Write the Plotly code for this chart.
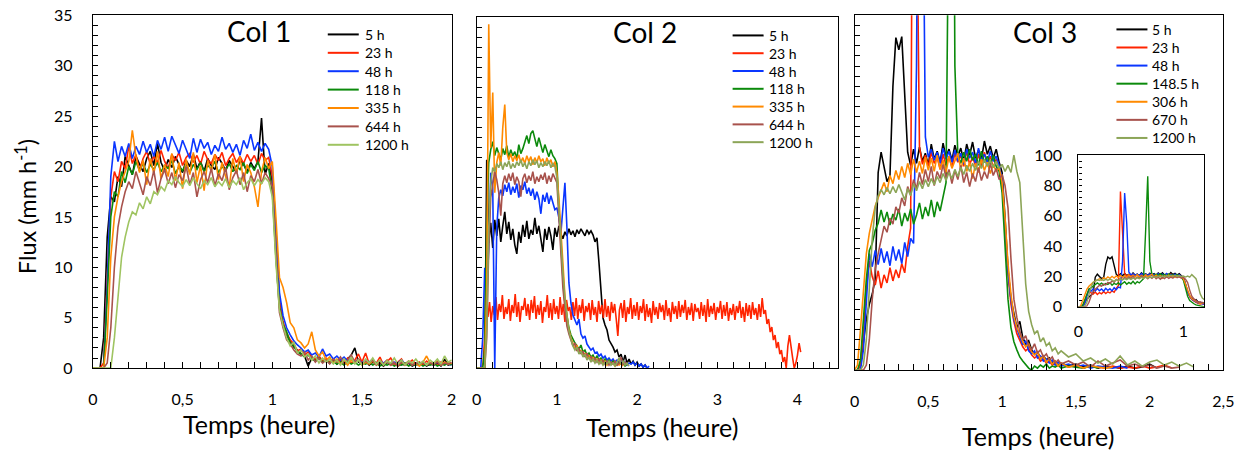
import plotly.graph_objects as go

# ---------------- data ----------------
SERIES_1 = ["5 h", "23 h", "48 h", "118 h", "335 h", "644 h", "1200 h"]
SERIES_2 = ["5 h", "23 h", "48 h", "118 h", "335 h", "644 h", "1200 h"]
SERIES_3 = ["5 h", "23 h", "48 h", "148.5 h", "306 h", "670 h", "1200 h"]

N = None

# Col 1 : time (h)
T1 = [0.00, 0.02, 0.04, 0.06, 0.08, 0.10, 0.12, 0.14, 0.16, 0.18,
      0.20, 0.22, 0.24, 0.26, 0.28, 0.30, 0.32, 0.34, 0.36, 0.38,
      0.40, 0.42, 0.44, 0.46, 0.48, 0.50, 0.52, 0.54, 0.56, 0.58,
      0.60, 0.62, 0.64, 0.66, 0.68, 0.70, 0.72, 0.74, 0.76, 0.78,
      0.80, 0.82, 0.84, 0.86, 0.88, 0.90, 0.92, 0.94, 0.96, 0.98,
      1.00, 1.02, 1.04, 1.06, 1.08, 1.10, 1.12, 1.14, 1.16, 1.18,
      1.20, 1.22, 1.24, 1.26, 1.28, 1.30, 1.32, 1.34, 1.36, 1.38,
      1.40, 1.42, 1.44, 1.46, 1.48, 1.50, 1.52, 1.54, 1.56, 1.58,
      1.60, 1.62, 1.64, 1.66, 1.68, 1.70, 1.72, 1.74, 1.76, 1.78,
      1.80, 1.82, 1.84, 1.86, 1.88, 1.90, 1.92, 1.94, 1.96, 1.98,
      2.00]

c1_5h = [0, 0, 0, 3, 13, 17, 16.5, 19, 18, 21,
         20, 19.2, 21, 20.2, 19.5, 20.8, 21.5, 20.1, 22.3, 20.4,
         19.6, 20.7, 19.9, 21, 20.2, 19.4, 20.6, 20, 21.2, 19.8,
         20.5, 19.5, 20.8, 20.1, 19.7, 20.9, 20.3, 19.6, 20.6, 20,
         19.4, 20.7, 20.2, 19.5, 20.4, 19.8, 20.5, 24.8, 19.2, 20.3,
         18.5, 12, 6.5, 4.2, 3.2, 2.6, 2.1, 1.8, 1.4, 1.2,
         0.2, 1, 0.8, 1.1, 0.6, 0.9, 0.5, 0.8, 0.4, 0.7,
         0.5, 0.9, 1.3, 2, 0.6, 0.4, 0.7, 0.3, 0.6, 0.4,
         0.5, 0.2, 0.6, 0.3, 0.5, 0.2, 0.4, 0.3, 0.5, 0.2,
         0.4, 0.3, 0.5, 0.2, 0.4, 0.3, 0.5, 0.2, 0.9, 0.3,
         0.4]
c1_23h = [0, 0, 0, 0.5, 9, 17, 19.5, 18.5, 20.5, 19.8,
          22, 20.3, 21.2, 19.6, 20.8, 21.5, 20.2, 21, 20.4, 21.6,
          20.5, 19.8, 21.2, 20.6, 21.4, 20.1, 20.9, 21.3, 20.4, 21.1,
          20.2, 21.5, 20.7, 20.3, 21.2, 20.6, 21.4, 20.1, 20.8, 21.3,
          20.4, 21, 20.3, 21.2, 20.5, 21.1, 20.2, 21.3, 20.6, 20.9,
          19, 12.5, 6.8, 4.6, 3.5, 2.8, 2.4, 1.7, 1.9, 1.3,
          1.6, 1.1, 0.9, 1.2, 0.7, 1, 0.6, 0.9, 0.5, 0.8,
          0.6, 1, 0.5, 0.8, 1.4, 0.6, 1.5, 0.4, 0.8, 0.5,
          1.1, 0.3, 0.7, 1, 0.4, 0.6, 0.9, 0.3, 0.5, 0.8,
          0.4, 0.6, 0.3, 0.7, 0.4, 0.5, 0.3, 0.6, 0.4, 0.5,
          0.4]
c1_48h = [0, 0, 0, 0, 8, 19, 22.5, 20.5, 22, 21,
          22.3, 20.8, 22, 21.2, 22.5, 21.4, 22.2, 21, 22.6, 21.7,
          22.9, 21.5, 23, 22.1, 21.3, 22.6, 21.6, 20.8, 22.8, 21.4,
          22.7, 21.8, 22.4, 21.2, 22.1, 21.5, 22.9, 21.7, 22.3, 21.4,
          22.2, 21.1, 22.6, 21.8, 23.2, 21.6, 22.4, 21.5, 22.3, 21.7,
          20, 13.5, 7.5, 5.2, 4, 3.3, 2.7, 2.3, 2, 1.6,
          1.8, 1.3, 1.5, 1.1, 1.9, 1.2, 1.4, 0.9, 1.2, 0.8,
          1.1, 0.7, 1, 0.6, 0.9, 0.5, 0.8, 0.6, 0.9, 0.4,
          0.7, 0.5, 0.8, 0.3, 0.6, 0.5, 0.8, 0.4, 0.6, 0.3,
          0.5, 0.4, 0.6, 0.3, 0.5, 0.4, 0.6, 0.3, 0.5, 0.4,
          0.3]
c1_118h = [0, 0, 0, 0, 7, 15, 17.5, 17, 19.5, 18.4,
           20, 19.2, 20.5, 19.6, 20.3, 19.4, 20.2, 19.7, 20.4, 19.5,
           20.1, 19.8, 20.6, 19.3, 20, 19.6, 20.3, 19.4, 20.2, 19.7,
           20.4, 19.5, 20.1, 19.8, 20.5, 19.4, 20, 19.6, 20.3, 19.5,
           20.1, 19.7, 20.4, 19.3, 20.2, 19.6, 20.5, 19.4, 20.1, 19.8,
           17.5, 11, 6, 4.3, 3.6, 2.5, 2.2, 1.6, 1.4, 1.1,
           1.3, 0.9, 0.7, 1, 0.6, 0.8, 0.5, 0.7, 0.4, 0.6,
           0.3, 0.7, 0.4, 0.6, 0.3, 0.5, 0.4, 0.6, 0.3, 0.5,
           0.2, 0.4, 0.3, 0.5, 0.2, 0.4, 0.3, 0.5, 0.2, 0.4,
           0.3, 0.5, 0.2, 0.4, 0.3, 0.5, 0.2, 0.4, 0.3, 0.5,
           0.3]
c1_335h = [0, 0, 0, 0, 3, 11, 15, 17, 18.5, 19.5,
           20.5, 23.6, 21, 19.4, 20.6, 18.2, 20.8, 19.3, 21.5, 18.8,
           20.2, 19, 21.3, 18.6, 20.4, 17.8, 20.7, 19.2, 21.4, 18.4,
           20.1, 17.6, 20.6, 19.5, 21.2, 18.7, 20.4, 19, 17.9, 20.8,
           19.3, 21, 18.5, 20.2, 19.4, 18, 16, 19.5, 20.9, 19.8,
           20.5, 15, 9, 8, 6.5, 4.5, 4, 2.8, 2.5, 2,
           2.4, 3.6, 1.8, 1.2, 1.6, 0.8, 1.1, 0.5, 0.9, 0.4,
           0.7, 0.3, 0.8, 0.5, 0.9, 0.3, 0.6, 0.4, 0.7, 0.3,
           0.6, 0.4, 0.8, 0.3, 0.5, 0.2, 0.6, 0.4, 0.7, 0.3,
           0.5, 0.2, 0.6, 1.2, 0.5, 0.4, 0.7, 0.3, 0.6, 0.4,
           0.5]
c1_644h = [0, 0, 0, 0, 0.5, 4, 10, 14, 16, 17.5,
           18.5, 17.8, 19.5, 18.4, 17.2, 19, 18.1, 19.6, 17.4, 18.8,
           19.7, 18.3, 19.4, 17.9, 19.2, 18.6, 20, 18.2, 19.4, 17,
           18.7, 19.5, 18.4, 19.8, 18.1, 19.3, 18.6, 19.9, 17.7, 18.9,
           19.6, 18.2, 19.4, 17.5, 19.1, 18.5, 19.7, 18.3, 19.4, 18.8,
           18, 11.5, 5.5, 4, 2.8, 2.4, 1.8, 1.4, 1.2, 1.6,
           0.8, 1.2, 0.6, 1, 0.5, 0.8, 0.4, 0.9, 0.6, 1.1,
           0.5, 0.8, 1.3, 0.6, 0.9, 0.4, 0.7, 0.5, 0.8, 0.3,
           0.6, 0.4, 0.7, 0.3, 0.5, 0.2, 0.6, 0.4, 0.7, 0.3,
           0.5, 0.4, 0.6, 0.3, 0.5, 0.4, 0.6, 0.3, 0.5, 0.4,
           0.6]
c1_1200h = [0, 0, 0, 0, 0, 0, 3, 7, 11, 13,
            14.5, 15.5, 15.2, 16.4, 15.8, 17, 16.3, 17.5, 17.2, 18,
            17.6, 18.6, 18.2, 19, 18.4, 18, 18.7, 18.1, 18.9, 18.3,
            17.8, 18.6, 18.2, 18.9, 18, 18.5, 18.1, 18.8, 17.9, 18.6,
            18.2, 18.9, 17.7, 18.4, 18.8, 18.1, 18.7, 18.3, 18.9, 18.5,
            17, 10.5, 5.8, 4.2, 3, 2.2, 2.6, 1.5, 1.8, 1.1,
            1.4, 0.8, 1.2, 0.5, 1, 0.6, 0.9, 0.4, 0.8, 0.3,
            0.9, 0.5, 1.1, 0.4, 0.8, 0.3, 0.9, 0.5, 1, 0.4,
            0.8, 0.3, 0.7, 0.5, 1, 0.4, 0.8, 0.3, 0.7, 0.5,
            0.9, 0.4, 0.7, 0.3, 0.8, 0.5, 0.9, 0.4, 1.2, 0.6,
            0.8]

# Col 2 : time (h)
T2 = [0, 0.025, 0.05, 0.075, 0.1, 0.125, 0.15, 0.175,
      0.2, 0.225, 0.25, 0.275, 0.3, 0.325, 0.35, 0.375,
      0.4, 0.425, 0.45, 0.475, 0.5, 0.525, 0.55, 0.575,
      0.6, 0.625, 0.65, 0.675, 0.7, 0.725, 0.75, 0.775,
      0.8, 0.825, 0.85, 0.875, 0.9, 0.925, 0.95, 0.975,
      1.0, 1.025, 1.05, 1.075, 1.1, 1.125, 1.15, 1.175,
      1.2, 1.225, 1.25, 1.275, 1.3, 1.325, 1.35, 1.375,
      1.4, 1.425, 1.45, 1.475, 1.5, 1.525, 1.55, 1.575,
      1.6, 1.625, 1.65, 1.675, 1.7, 1.725, 1.75, 1.775,
      1.8, 1.825, 1.85, 1.875, 1.9, 1.925, 1.95, 1.975,
      2.0, 2.025, 2.05, 2.075, 2.1, 2.125, 2.15, 2.175,
      2.2]
T2_long = [0.00, 0.02, 0.04, 0.06, 0.08, 0.10, 0.12, 0.14, 0.16, 0.18,
           0.20, 0.22, 0.24, 0.26, 0.28, 0.30, 0.32, 0.34, 0.36, 0.38,
           0.40, 0.42, 0.44, 0.46, 0.48, 0.50, 0.52, 0.54, 0.56, 0.58,
           0.60, 0.62, 0.64, 0.66, 0.68, 0.70, 0.72, 0.74, 0.76, 0.78,
           0.80, 0.82, 0.84, 0.86, 0.88, 0.90, 0.92, 0.94, 0.96, 0.98,
           1.00, 1.02, 1.04, 1.06, 1.08, 1.10, 1.12, 1.14, 1.16, 1.18,
           1.20, 1.22, 1.24, 1.26, 1.28, 1.30, 1.32, 1.34, 1.36, 1.38,
           1.40, 1.42, 1.44, 1.46, 1.48, 1.50, 1.52, 1.54, 1.56, 1.58,
           1.60, 1.62, 1.64, 1.66, 1.68, 1.70, 1.72, 1.74, 1.76, 1.78,
           1.80, 1.82, 1.84, 1.86, 1.88, 1.90, 1.92, 1.94, 1.96, 1.98,
           2.00, 2.02, 2.04, 2.06, 2.08, 2.10, 2.12, 2.14, 2.16, 2.18,
           2.20, 2.22, 2.24, 2.26, 2.28, 2.30, 2.32, 2.34, 2.36, 2.38,
           2.40, 2.42, 2.44, 2.46, 2.48, 2.50, 2.52, 2.54, 2.56, 2.58,
           2.60, 2.62, 2.64, 2.66, 2.68, 2.70, 2.72, 2.74, 2.76, 2.78,
           2.80, 2.82, 2.84, 2.86, 2.88, 2.90, 2.92, 2.94, 2.96, 2.98,
           3.00, 3.02, 3.04, 3.06, 3.08, 3.10, 3.12, 3.14, 3.16, 3.18,
           3.20, 3.22, 3.24, 3.26, 3.28, 3.30, 3.32, 3.34, 3.36, 3.38,
           3.40, 3.42, 3.44, 3.46, 3.48, 3.50, 3.52, 3.54, 3.56, 3.58,
           3.60, 3.62, 3.64, 3.66, 3.68, 3.70, 3.72, 3.74, 3.76, 3.78,
           3.80, 3.82, 3.84, 3.86, 3.88, 3.90, 3.92, 3.94, 3.96, 3.98,
           4.00, 4.02, 4.04]

c2_5h = [0, 0, 0, 0, 0, 20.8, 12.5, 14.5,
         12, 14.8, 13.2, 14.9, 12.6, 14.2, 15.6, 13.4,
         14.6, 12.8, 13.9, 12.3, 11.4, 13.6, 12.5, 14.3,
         13.1, 14.7, 12.9, 13.8, 13.3, 15, 13.4, 14.2,
         12.7, 11.6, 13.9, 12.8, 14.1, 13.2, 11.8, 14,
         13.1, 14.2, 13.4, 12.9, 13.6, 13.2, 13.9, 13.3,
         13.7, 13.1, 13.8, 13.4, 13.9, 13.5, 13.2, 13.8,
         13.4, 13.7, 13.3, 12.6, 13, 10.5, 7.5, 5,
         4.3, 3.8, 2.8, 2.5, 2.1, 1.6, 1.8, 1.1,
         1.4, 0.6, 1.3, 0.5, 0.9, 0.4, 0.7, 0.3,
         0.6, 0.2, 0.4, 0.1, 0.3, 0, N, N,
         N]
c2_23h = [0, 0, 0, 0, 0.5, 3, 6, 5.1, 6.6, 4.6,
          6.2, 5.3, 7.1, 4.8, 6.4, 5.6, 7.3, 4.9, 6.1, 5.4,
          6.9, 4.7, 6.3, 5.5, 7.4, 5.1, 6.6, 4.6, 6.2, 5.8,
          7, 5.2, 6.4, 4.8, 6.8, 5.5, 7.2, 4.9, 6.3, 5.3,
          6.7, 4.5, 6.1, 5.6, 7.3, 5, 6.5, 4.8, 6.9, 5.4,
          6.2, 4.9, 7.1, 5.3, 6.4, 4.6, 6.8, 5.7, 6.1, 4.8,
          6.6, 5.2, 7, 4.9, 6.3, 5.5, 6.9, 4.7, 6.2, 5.6,
          6.5, 4.8, 6.8, 5.3, 6.1, 4.6, 6.7, 5.4, 6.3, 5,
          6.9, 5.1, 6.2, 4.7, 6.6, 5.5, 6.4, 4.9, 3.2, 5.8,
          6.5, 5, 6.8, 4.6, 6.1, 5.4, 7, 4.9, 6.3, 5.2,
          6.6, 4.8, 6.2, 5.5, 6.9, 4.7, 6.4, 5.1, 6, 4.5,
          6.7, 5.3, 6.1, 4.9, 6.5, 5.6, 6.3, 4.8, 6.8, 5.2,
          6, 4.6, 6.6, 5.4, 6.2, 4.9, 6.7, 5.1, 6.3, 5.5,
          6.8, 4.8, 6.1, 5.3, 6.5, 4.7, 6.4, 5.6, 6, 4.9,
          6.6, 5.2, 6.3, 4.6, 6.9, 5.1, 6.2, 5.4, 6.5, 4.8,
          6.1, 5.5, 6.7, 4.9, 6.3, 5.2, 6.6, 4.7, 6, 5.3,
          6.4, 4.8, 6.2, 5.5, 6.7, 5, 6.1, 4.6, 6.5, 5.2,
          6.3, 4.9, 6.6, 5.3, 6, 4.8, 6.4, 5.1, 7, 5.4,
          5.8, 4.4, 4.9, 3.6, 4.1, 2.8, 3.3, 2, 2.6, 1.4,
          1.8, 0.6, 1.1, 0, 2.2, 3.3, 1.9, 1, 0, 0.5,
          1.3, 2.5, 1.6]
c2_48h = [0, 0, 0, 3, 10, 7, 12, 19.5,
          18, 0, 14, 17, 17.8, 17.2, 18.3, 17.6,
          18.5, 17.3, 18.1, 17.5, 18.4, 17, 18.2, 17.8,
          18.6, 17.4, 18, 17.2, 17.9, 16.8, 17.6, 16.9,
          15.4, 17.3, 16.6, 17.5, 16.4, 17.2, 16.5, 15.8,
          16, 15, 13.5, 16.5, 18.5, 14, 8.5, 6.5,
          5.3, 4.8, 4.3, 4.9, 3.4, 3, 3.2, 2.4,
          2.1, 1.8, 2, 1.5, 1.6, 1.2, 1.4, 1,
          1.2, 0.8, 1, 0.7, 0.9, 0.6, 0.8, 0.5,
          0.7, 0.4, 0.6, 0.3, 0.5, 0.4, 0.6, 0.3,
          0.5, 0.2, 0.4, 0.1, 0.3, 0, 0.2, N,
          N]
c2_118h = [0, 0, 0, 0, 2, 14, 20.5, 21.8,
           22.6, 21.2, 22, 21.4, 20.8, 21.9, 21.3, 22.2,
           21, 21.8, 21.2, 21.6, 20.9, 22.3, 21.4, 21.9,
           22.6, 23.2, 22.4, 23.4, 23.7, 22.8, 22.1, 23,
           22.2, 21.5, 22.3, 21.6, 21.1, 21.8, 21.2, 20.9,
           20.4, 16, 12, 9, 6.5, 5, 4, 3.3,
           2.8, 2.5, 2.2, 1.9, 2.3, 1.6, 1.8, 1.3,
           1.5, 1.1, 1.3, 0.9, 1.2, 0.8, 1, 0.6,
           0.9, 0.5, 0.8, 0.4, 0.7, 0.5, 0.3, 0.6,
           0.4, 0.5, 0.2, 0.4, N, N, N, N,
           N, N, N, N, N, N, N, N,
           N]
c2_335h = [0, 0, 0, 0, 0, 8, 34.3, 22,
           27.5, 17.5, 20.5, 21.5, 20.2, 24, 26.3, 21.5,
           20.8, 21.4, 20.6, 21.2, 20.7, 21.3, 20.5, 21,
           20.4, 21.2, 20.6, 21.1, 20.3, 21, 20.5, 21.2,
           20.6, 20.9, 20.2, 21, 20.4, 20.8, 20.1, 20.6,
           19.5, 17, 13.5, 10, 7.2, 5.2, 3.8, 3,
           2.4, 1.9, 2.3, 1.5, 1.8, 1.2, 1.5, 0.9,
           1.3, 0.8, 1.1, 0.6, 0.9, 0.5, 0.8, 0.4,
           0.7, 0.3, 0.6, 0.4, 0.5, 0.2, 0.4, 0.3,
           0.5, 0.2, N, N, N, N, N, N,
           N, N, N, N, N, N, N, N,
           N]
c2_644h = [0, 0, 0, 0, 0, 3, 12, 17,
           18.5, 19.6, 18.8, 17.5, 15.2, 18.4, 19.2, 18.5,
           19.4, 18.7, 19.5, 18.3, 19.1, 18.6, 17.1, 18.9,
           19.4, 18.5, 19.2, 18.7, 19.6, 18.4, 19.1, 18.6,
           19.3, 18.8, 19.5, 18.4, 19.2, 18.6, 19.4, 19,
           18.5, 15, 11, 8, 6, 4.2, 3.4, 2.7,
           2.2, 2.5, 1.7, 2, 1.4, 1.7, 1.1, 1.5,
           0.9, 1.2, 0.7, 1, 0.6, 0.9, 0.5, 0.8,
           0.4, 0.7, 0.3, 0.6, 0.4, 0.7, 0.3, 0.5,
           1.1, 0.4, 0.6, 0.3, N, N, N, N,
           N, N, N, N, N, N, N, N,
           N]
c2_1200h = [0, 0, 0, 0, 0, 4, 14, 18.5,
            20, 19.6, 20.4, 20, 20.6, 19.8, 20.5, 20.1,
            20.7, 19.9, 20.4, 20, 20.6, 20.2, 20.8, 20.1,
            20.5, 19.9, 20.6, 20.2, 20.8, 20.3, 20.7, 20,
            20.5, 20.1, 20.6, 20.2, 20.7, 20, 20.4, 20.1,
            19, 16, 12.5, 9.5, 7, 5, 3.7, 2.9,
            2.2, 1.8, 2.1, 1.4, 1.7, 1.1, 1.4, 0.8,
            1.1, 0.6, 0.9, 0.5, 0.8, 0.4, 0.7, 0.3,
            0.6, 0.4, 0.7, 0.3, 0.5, 0.2, 0.6, 1,
            0.4, 0.7, 0.3, 0.5, 0.2, N, N, N,
            N, N, N, N, N, N, N, N,
            N]

# Col 3 : time (h)
T3 = [0.00, 0.02, 0.04, 0.06, 0.08, 0.10, 0.12, 0.14, 0.16, 0.18,
      0.20, 0.22, 0.24, 0.26, 0.28, 0.30, 0.32, 0.34, 0.36, 0.38,
      0.40, 0.42, 0.44, 0.46, 0.48, 0.50, 0.52, 0.54, 0.56, 0.58,
      0.60, 0.62, 0.64, 0.66, 0.68, 0.70, 0.72, 0.74, 0.76, 0.78,
      0.80, 0.82, 0.84, 0.86, 0.88, 0.90, 0.92, 0.94, 0.96, 0.98,
      1.00, 1.02, 1.04, 1.06, 1.08, 1.10, 1.12, 1.14, 1.16, 1.18,
      1.20, 1.22, 1.24, 1.26, 1.28, 1.30, 1.32, 1.34, 1.36, 1.38,
      1.40, 1.45, 1.50, 1.55, 1.60, 1.65, 1.70, 1.75, 1.80, 1.85,
      1.90, 1.95, 2.00, 2.05, 2.10, 2.15, 2.20, 2.25, 2.30]

c3_5h = [0, 0, 0.5, 3, 5, 6.5, 7.5, 9, 19.5, 21.5,
         20, 18.6, 19.2, 28, 32.8, 31.6, 32.9, 27, 21.5, 20.2,
         21.8, 20.4, 22, 20.6, 21.4, 20.2, 22.3, 20.8, 21.6, 20.5,
         22.4, 21, 21.8, 20.7, 22.2, 21.1, 21.9, 20.6, 22.3, 21.2,
         22.5, 20.9, 21.7, 20.8, 22.6, 21.3, 22.1, 20.9, 21.8, 20.5,
         19.5, 15, 10, 7, 5.5, 4.2, 4.8, 3.2, 2.6, 2.9,
         2, 1.6, 1.8, 1.2, 1.4, 1, 1.2, 0.7, 0.9, 0.5,
         0.7, 0.4, 0.6, 0.3, 0.5, 0.2, 0.4, 0.3, 0.2, 0.4,
         0.2, 0.3, 0.6, 0.2, N, N, N, N, N]
c3_23h = [0, 0, 0.5, 3.5, 8, 10.8, 9.2, 8.4, 9.8, 8.1,
          9.4, 8.6, 10.1, 8.8, 9.9, 9.1, 10.5, 9.6, 12.2, 14,
          76, 52, 22, 20.3, 21.2, 20.1, 21.5, 20.4, 21, 19.8,
          21.3, 20.2, 21.1, 20, 21.4, 20.5, 21.2, 20.1, 21.6, 20.3,
          21, 20.2, 21.3, 20.1, 21.5, 20.4, 21.1, 20, 20.8, 19.9,
          18.5, 14, 9.5, 6.5, 4.8, 3.6, 2.9, 2.3, 1.9, 2.2,
          1.5, 1.2, 1.4, 0.9, 1.1, 0.7, 0.9, 0.5, 0.7, 0.4,
          0.6, 0.3, 0.5, 0.2, 0.4, 0.3, 0.2, 0.4, 0.2, 0.3,
          0.2, 0.4, 0.2, 0.3, 0.5, 0.2, N, N, N]
c3_48h = [0, 0, 0, 2, 7, 11.5, 10.2, 11.8, 10.4, 12,
          10.6, 11.7, 10.3, 12.2, 10.8, 11.9, 10.5, 12.6, 11.2, 13,
          12.5, 30, 75, 55, 23, 21, 21.8, 20.7, 21.5, 20.4,
          21.9, 20.8, 21.6, 20.5, 21.7, 20.6, 21.4, 20.3, 21.8, 20.9,
          21.5, 20.4, 21.9, 20.7, 21.3, 20.5, 21.6, 20.6, 21.1, 20.2,
          18.8, 14.5, 9.8, 7, 5, 4.1, 3.2, 2.5, 2.9, 1.9,
          1.6, 1.9, 1.2, 1.4, 0.9, 1.1, 0.7, 1, 0.5, 0.8,
          0.4, 0.6, 0.3, 0.5, 0.2, 0.4, 0.3, 0.2, 0.4, 0.2,
          N, N, N, N, N, N, N, N, N]
c3_148h = [0, 0, 1, 5, 9, 11.8, 12.5, 13.8, 14.5, 15.8,
           14.6, 15.6, 14.3, 15.4, 14.8, 15.9, 14.2, 15.5, 14.7, 15.9,
           14.4, 15.3, 16.5, 14.9, 16.1, 15.2, 16.8, 15.1, 16.6, 15.7,
           17.2, 18.5, 50, 86, 30, 21.2, 20.4, 21.5, 20.6, 21.8,
           20.7, 21.3, 20.2, 21.6, 20.5, 21.1, 20.3, 21.2, 20.1, 19.6,
           17.5, 12, 7, 4.2, 2.8, 2, 1.3, 0.9, 0.5, 0.2,
           0, 0.4, 0.2, 0.5, 0.3, 0.6, 0.2, 0.4, 0.3, 0.5,
           0.2, 0.4, 0.3, 0.2, 0.4, 0.2, N, N, N, N,
           N, N, N, N, N, N, N, N, N]
c3_306h = [0, 0.5, 4, 8, 11.5, 13.5, 15, 16.2, 17, 17.8,
           18.5, 17.6, 19.2, 18.4, 19.7, 18.8, 20.1, 19, 20.4, 19.3,
           20.8, 19.5, 20.6, 19.4, 21, 19.7, 20.9, 19.6, 21.2, 19.8,
           20.7, 19.5, 21.1, 19.9, 20.6, 21.4, 19.8, 20.9, 19.6, 20.5,
           18.9, 20.4, 19.5, 20.8, 19.7, 20.5, 19.4, 20.3, 19.6, 20,
           18.5, 15, 10.5, 7.5, 5.3, 4.2, 3.6, 2.8, 2.3, 2.6,
           1.8, 1.5, 1.8, 1.1, 1.4, 0.8, 1.1, 0.6, 0.9, 0.4,
           0.7, 0.3, 0.5, 0.2, 0.4, 0.3, 0.2, 0.3, N, N,
           N, N, N, N, N, N, N, N, N]
c3_670h = [0, 0, 0, 0, 0.5, 3, 7, 10, 11.5, 13,
           14.2, 13.6, 15, 14.4, 16.1, 15.5, 17, 16.2, 18.1, 17.3,
           18.8, 17.9, 19.5, 18.3, 19.8, 18.6, 20.1, 18.2, 19.6, 18.9,
           20.3, 19, 19.8, 18.4, 19.7, 18.8, 20.2, 18.5, 19.5, 18.1,
           19.4, 18.6, 20, 18.7, 19.6, 18.9, 20.4, 19.2, 19.9, 18.8,
           19.3, 18.2, 16, 11, 7, 5.2, 3.8, 3, 3.4, 2.4,
           2, 2.6, 1.7, 2, 1.3, 1.6, 1, 1.3, 0.7, 1,
           0.6, 0.9, 0.5, 0.8, 0.3, 0.9, 0.4, 0.7, 1, 0.4,
           0.6, 0.3, 0.5, 0.2, 0.4, 0.2, 0.3, N, N]
c3_1200h = [0, 0, 0, 0.5, 3, 8, 13, 16, 17.2, 17.8,
            17.3, 18, 17.4, 18.1, 17.5, 18.3, 17.6, 16.8, 17.9, 17.2,
            18.4, 17.7, 18.6, 17.9, 18.8, 18.1, 18.9, 18.3, 19.1, 18.5,
            19.4, 18.7, 19.5, 18.9, 19.8, 19.1, 20, 19.3, 20.2, 19.6,
            20.4, 19.7, 20.6, 19.9, 20.8, 20.1, 20.7, 20, 20.6, 19.9,
            20.3, 19.6, 20.2, 19.5, 21.2, 19.6, 18.5, 14, 8.5, 5.8,
            4.5, 3.6, 3.9, 2.8, 3.2, 2.4, 2.7, 1.9, 2.2, 1.6,
            1.9, 1.3, 1.6, 0.9, 1.2, 0.7, 1.1, 0.6, 1.4, 0.5,
            0.9, 0.4, 0.8, 1, 0.5, 0.8, 0.4, 0.7, 0.3]

X_TICKS_1 = [0, 0.5, 1, 1.5, 2]
X_TICKS_2 = [0, 1, 2, 3, 4]
X_TICKS_3 = [0, 0.5, 1, 1.5, 2, 2.5]
Y_TICKS = [0, 5, 10, 15, 20, 25, 30, 35]
INSET_Y_TICKS = [0, 20, 40, 60, 80, 100]
INSET_X_TICKS = [0, 1]

# ---------------- style ----------------
# Placement of the figure inside the captured window (measured from earlier
# renders): screen = OFFSET + SCALE * figure pixel.
W, H = 1250, 462
OX, OY = 4.1, 7.7
SX, SY = 0.9876, 0.954
FONT = "Lato, 'Open Sans', sans-serif"
COL_BLACK = "#000000"
COL_RED = "#FF2400"
COL_BLUE = "#0A36FF"
COL_GREEN = "#0B8A0B"
COL_ORANGE = "#FF8A00"
COL_BROWN = "#A8524C"
COL_LIME = "#9FC461"
COL_OLIVE = "#8CA557"

colors1 = [COL_BLACK, COL_RED, COL_BLUE, COL_GREEN, COL_ORANGE, COL_BROWN, COL_LIME]
colors23 = [COL_BLACK, COL_RED, COL_BLUE, COL_GREEN, COL_ORANGE, COL_BROWN, COL_OLIVE]


def fx(px):
    return ((px - OX) / SX) / W


def fy(py):
    return 1 - ((py - OY) / SY) / H


fig = go.Figure()

panel1 = [(T1, c1_5h), (T1, c1_23h), (T1, c1_48h), (T1, c1_118h),
          (T1, c1_335h), (T1, c1_644h), (T1, c1_1200h)]
panel2 = [(T2, c2_5h), (T2_long, c2_23h), (T2, c2_48h), (T2, c2_118h),
          (T2, c2_335h), (T2, c2_644h), (T2, c2_1200h)]
panel3 = [(T3, c3_5h), (T3, c3_23h), (T3, c3_48h), (T3, c3_148h),
          (T3, c3_306h), (T3, c3_670h), (T3, c3_1200h)]

for (t, v), name, col in zip(panel1, SERIES_1, colors1):
    fig.add_trace(go.Scatter(x=t, y=v, name=name, mode="lines",
                             line=dict(color=col, width=1.6),
                             xaxis="x", yaxis="y", showlegend=False, hoverinfo="skip"))
for (t, v), name, col in zip(panel2, SERIES_2, colors23):
    fig.add_trace(go.Scatter(x=t, y=v, name=name, mode="lines",
                             line=dict(color=col, width=1.6),
                             xaxis="x2", yaxis="y2", showlegend=False, hoverinfo="skip"))
for (t, v), name, col in zip(panel3, SERIES_3, colors23):
    fig.add_trace(go.Scatter(x=t, y=v, name=name, mode="lines",
                             line=dict(color=col, width=1.6),
                             xaxis="x3", yaxis="y3", showlegend=False, hoverinfo="skip"))
for (t, v), name, col in zip(panel3, SERIES_3, colors23):
    fig.add_trace(go.Scatter(x=t, y=v, name=name, mode="lines",
                             line=dict(color=col, width=1.4),
                             xaxis="x4", yaxis="y4", showlegend=False, hoverinfo="skip"))

base = dict(showline=True, linecolor="black", linewidth=1.3, mirror=True,
            showgrid=False, zeroline=False, ticks="inside", tickcolor="black",
            tickwidth=1.2, ticklen=6,
            tickfont=dict(family=FONT, size=16, color="black"))


def xax(dom, rng, tickvals, minor, anchor, standoff=17, size=16, ticklen=6):
    d = dict(base)
    d.update(domain=dom, range=rng, tickmode="array", tickvals=tickvals,
             minor=dict(dtick=minor, tick0=0, ticks="inside", ticklen=ticklen,
                        tickcolor="black", tickwidth=1.2),
             anchor=anchor, ticklabelstandoff=standoff, ticklen=ticklen,
             tickfont=dict(family=FONT, size=size, color="black"))
    return d


def yax(dom, rng, tickvals, minor, anchor, labels=True, standoff=16, size=16, ticklen=5):
    d = dict(base)
    d.update(domain=dom, range=rng, tickmode="array", tickvals=tickvals,
             minor=dict(dtick=minor, tick0=0, ticks="inside", ticklen=ticklen,
                        tickcolor="black", tickwidth=1.2),
             anchor=anchor, showticklabels=labels, ticklabelstandoff=standoff,
             ticklen=ticklen, tickfont=dict(family=FONT, size=size, color="black"))
    return d


fig.update_layout(
    width=W, height=H, margin=dict(l=0, r=0, t=0, b=0),
    paper_bgcolor="white", plot_bgcolor="white",
    separators=", ",
    font=dict(family=FONT, color="black"),
    xaxis=xax([fx(92), fx(451)], [0, 2], X_TICKS_1, 0.1, "y"),
    yaxis=yax([fy(364), fy(13)], [0, 35], Y_TICKS, 1, "x"),
    xaxis2=xax([fx(476), fx(837)], [0, 4.5], X_TICKS_2, 0.2, "y2"),
    yaxis2=yax([fy(364), fy(15)], [0, 35], Y_TICKS, 1, "x2", labels=False),
    xaxis3=xax([fx(854), fx(1223)], [0, 2.5], X_TICKS_3, 0.1, "y3"),
    yaxis3=yax([fy(366), fy(13)], [0, 35], Y_TICKS, 1, "x3", labels=False),
    xaxis4=xax([fx(1078), fx(1204)], [0, 1.2], INSET_X_TICKS, 0.2, "y4",
               standoff=10, size=16, ticklen=3),
    yaxis4=yax([fy(303), fy(152)], [0, 100], INSET_Y_TICKS, 4, "x4",
               standoff=12, size=16, ticklen=3),
)

ann = []
# panel titles
for txt, x, y in [("Col 1", 258, 29), ("Col 2", 644, 30), ("Col 3", 1045, 30)]:
    ann.append(dict(text=txt, x=fx(x), y=fy(y), xref="paper", yref="paper",
                    showarrow=False, xanchor="center", yanchor="middle",
                    font=dict(family=FONT, size=28, color="black")))
# x axis titles
for x, y in [(258, 420), (661, 423), (1038, 432)]:
    ann.append(dict(text="Temps (heure)", x=fx(x), y=fy(y), xref="paper", yref="paper",
                    showarrow=False, xanchor="center", yanchor="middle",
                    font=dict(family=FONT, size=25, color="black")))
# y axis title
ann.append(dict(text="Flux (mm h<sup>-1</sup>)", x=fx(25), y=fy(203), xref="paper",
                yref="paper", showarrow=False, textangle=-90, xanchor="center",
                yanchor="middle", font=dict(family=FONT, size=23.5, color="black")))

shapes = []
legends = [(SERIES_1, colors1, 327, 358, 362, 32, 18.3),
           (SERIES_2, colors23, 732, 763, 766, 33, 17.7),
           (SERIES_3, colors23, 1116, 1147, 1150, 27, 18.0)]
for names, cols, x0, x1, xt, y0, dy in legends:
    for k, (nm, col) in enumerate(zip(names, cols)):
        yy = y0 + k * dy
        shapes.append(dict(type="line", xref="paper", yref="paper",
                           x0=fx(x0), x1=fx(x1), y0=fy(yy), y1=fy(yy),
                           line=dict(color=col, width=2)))
        ann.append(dict(text=nm, x=fx(xt), y=fy(yy), xref="paper", yref="paper",
                        showarrow=False, xanchor="left", yanchor="middle",
                        font=dict(family=FONT, size=14, color="black")))

fig.update_layout(annotations=ann, shapes=shapes)
fig.write_html("out.html")
